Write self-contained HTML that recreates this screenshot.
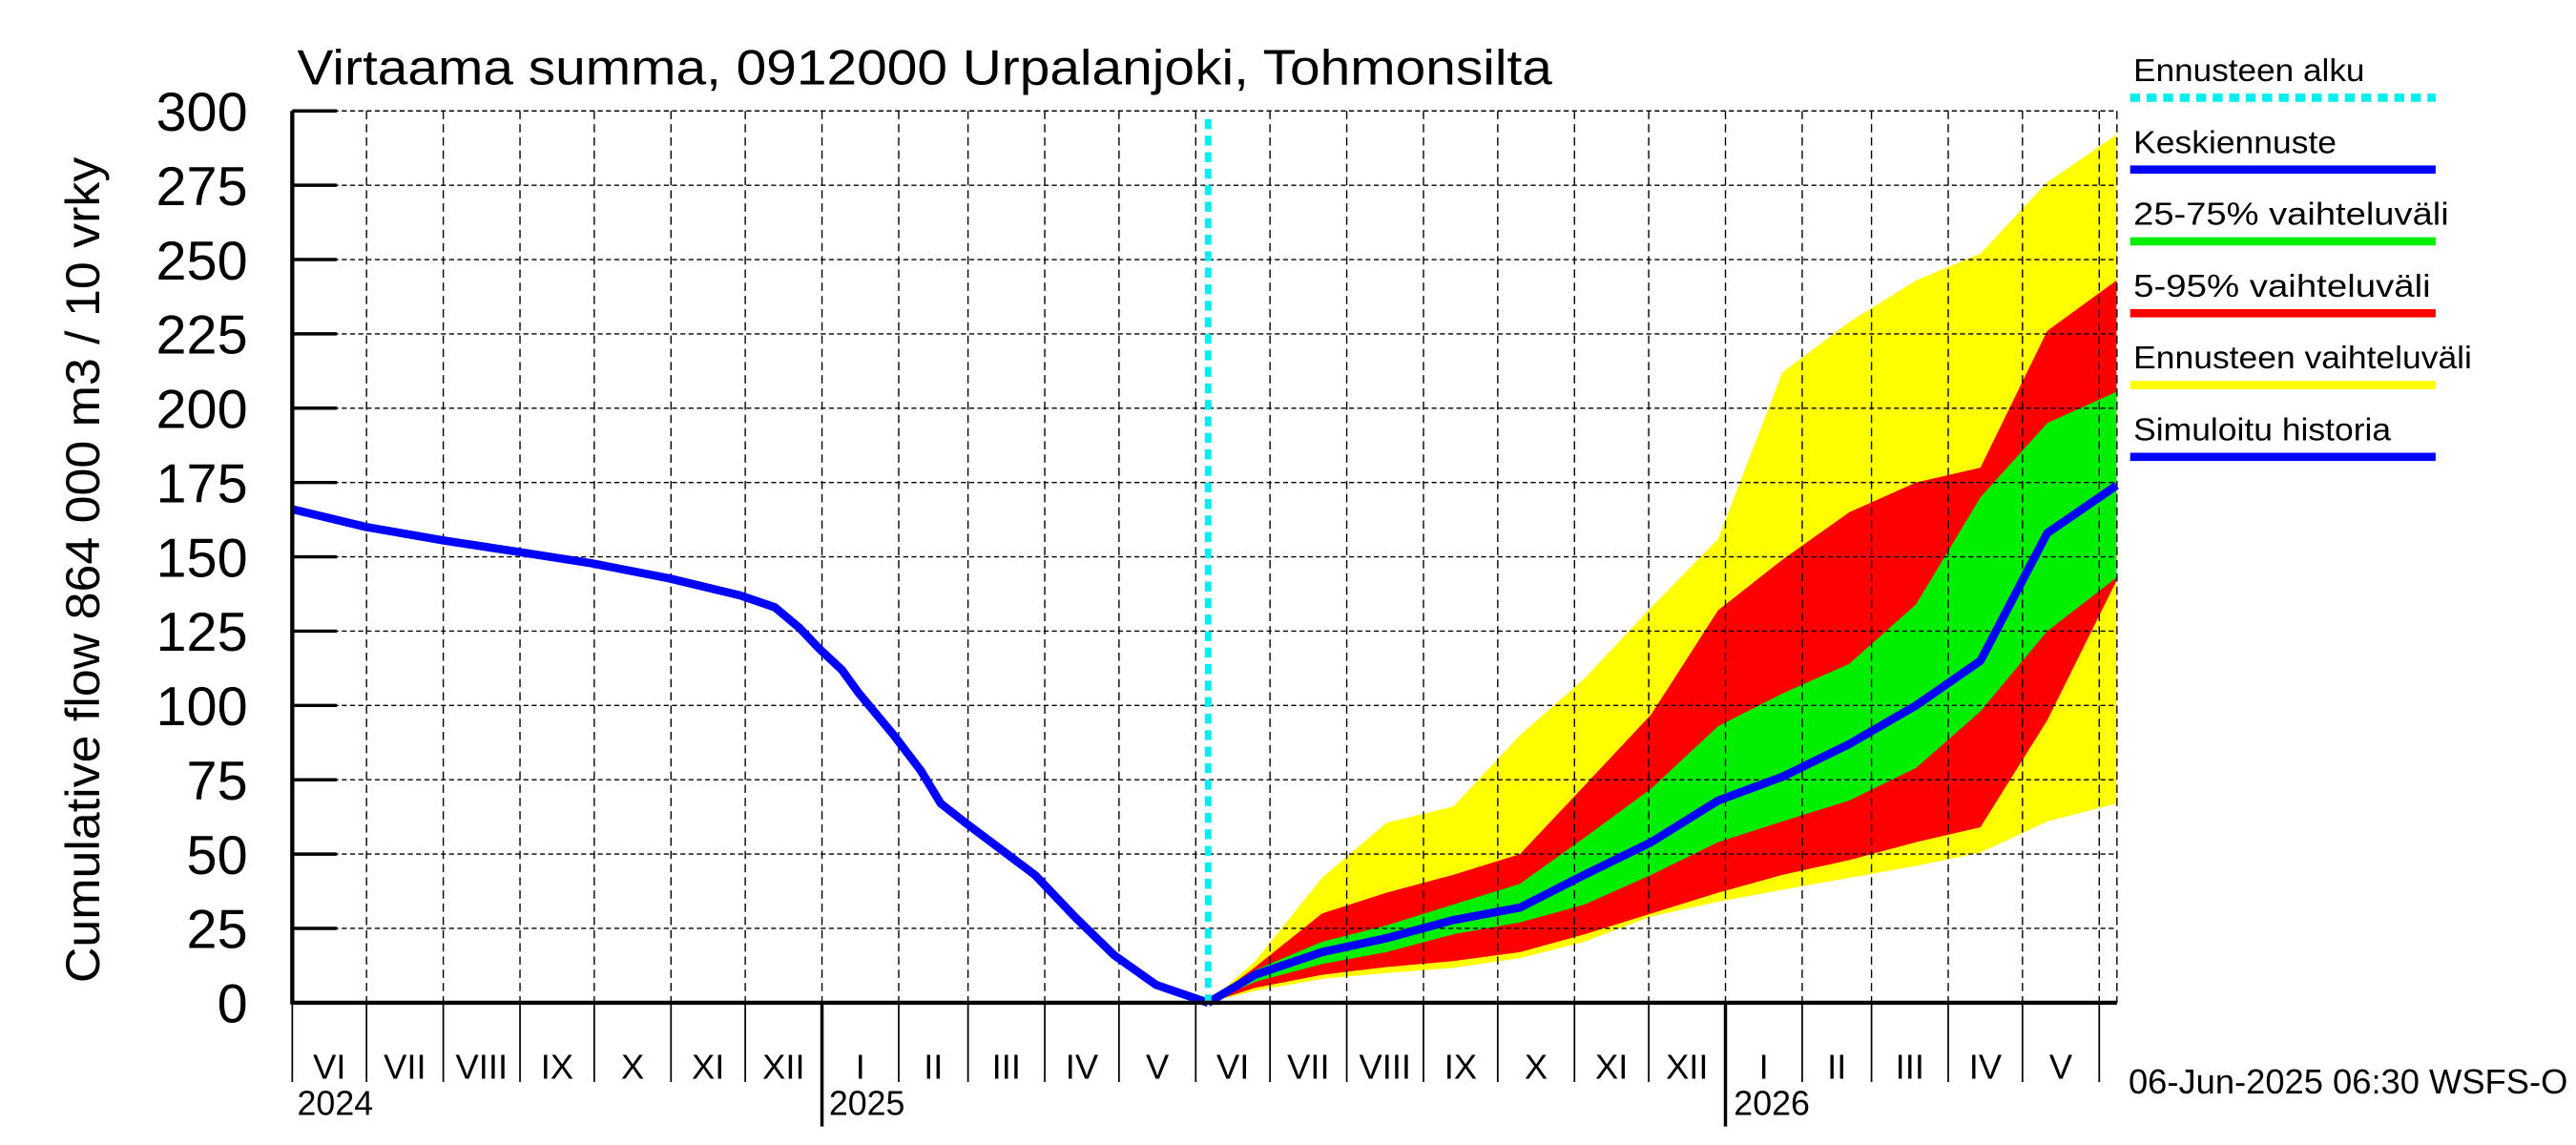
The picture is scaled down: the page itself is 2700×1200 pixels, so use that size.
<!DOCTYPE html>
<html><head><meta charset="utf-8"><style>
html,body{margin:0;padding:0;background:#fff;}
svg{display:block;font-family:"Liberation Sans",sans-serif;}
</style></head><body>
<svg id="chart" width="2700" height="1200" viewBox="0 0 1560 693" xmlns="http://www.w3.org/2000/svg">
<rect x="0" y="0" width="1560" height="693" fill="#fff"/>
<g id="bands"></g>
<g id="grid"></g>
<g id="lines"></g>
<g id="axes"></g>
<text x="180" y="51" font-size="30" textLength="760" lengthAdjust="spacingAndGlyphs">Virtaama summa, 0912000 Urpalanjoki, Tohmonsilta</text>
<text transform="translate(60,345) rotate(-90)" text-anchor="middle" font-size="29" textLength="500" lengthAdjust="spacingAndGlyphs">Cumulative flow    864 000 m3 / 10 vrky</text>
<text x="1555" y="662" text-anchor="end" font-size="21" textLength="266" lengthAdjust="spacingAndGlyphs">06-Jun-2025 06:30 WSFS-O</text>
<g id="legend"></g>
</svg>
<script>
const histDays=[0,30,61,91,121,152,181,195,205,213,222,229,243,254,262,272,284,300,316,332,349,370];
const histVals=[166,160,155.5,151.7,147.8,142.8,137,133,126,119,112,104,90,78,67,60.5,53,43,29,16,6,0];
const fcDays=[370,389,416,442,469,496,522,549,576,602,629,656,682,709,737];
const median=[0,9.4,17,21.7,27.8,32,43,54,68,76,87,100,115,158,174];
const p75=[0,11,20.5,26,33,40,55.5,72,93,104,114,134,170,195,205.5];
const p25=[0,7,13,17,23,27,33,43,54,61,68,79,98,125,143];
const p95=[0,12,30,37,43,50,73,97,132,149,165,175,180,226,243];
const p05=[0,5,9.4,12,14,17,23,30,37,43,48,54,59,95,142];
const pmax=[0,14,42,60.5,66,90,109,133,156,212,229,243,252,276,292];
const pmin=[0,4,8,10,11.7,15,20.5,29,34,38,42,46,50.5,61,67];
const yTicks=[0,25,50,75,100,125,150,175,200,225,250,275,300];
const monthLabels=["VI","VII","VIII","IX","X","XI","XII","I","II","III","IV","V","VI","VII","VIII","IX","X","XI","XII","I","II","III","IV","V"];
const yearLabels=["2024","2025","2026"];
const forecastDay=370;

const L=177,R=1282,T=67,B=607,PXD=1.499;
const X=d=>L+d*PXD, Y=v=>B-(v/300)*(B-T);
const NS="http://www.w3.org/2000/svg";
function mk(tag,attrs,parent){const e=document.createElementNS(NS,tag);for(const k in attrs)e.setAttribute(k,attrs[k]);parent.appendChild(e);return e;}
const gB=document.getElementById('bands'),gG=document.getElementById('grid'),gL=document.getElementById('lines'),gA=document.getElementById('axes'),gLeg=document.getElementById('legend');

function band(up,lo,color,name){
  let d='M'+fcDays.map((t,i)=>X(t)+','+Y(up[i])).join(' L');
  for(let i=fcDays.length-1;i>=0;i--)d+=' L'+X(fcDays[i])+','+Y(lo[i]);
  const p=mk('path',{d:d+'Z',fill:color},gB);
  
  
}
band(pmax,pmin,'#ffff00','band-full-range');
band(p95,p05,'#ff0000','band-5-95');
band(p75,p25,'#00ee00','band-25-75');

const bounds=[];
for(let i=0;i<=24;i++){const dt=new Date(Date.UTC(2024,5+i,1));bounds.push({d:(dt-Date.UTC(2024,5,1))/86400000,m:dt.getUTCMonth()});}
yTicks.forEach(v=>{
  const l=mk('line',{x1:L,x2:R,y1:Y(v),y2:Y(v),stroke:'#000','stroke-width':0.8,'stroke-dasharray':'3,2'},gG);
  
  
  const t=mk('text',{x:150,y:Y(v)+12,'text-anchor':'end','font-size':33,textLength:String(v).length*18.5,lengthAdjust:'spacingAndGlyphs'},gA);
  t.textContent=v;
  
  
  const tk=mk('line',{x1:L,x2:L+27,y1:Y(v),y2:Y(v),stroke:'#000','stroke-width':2},gA);
  
  
});
bounds.forEach((b,i)=>{
  const x=X(b.d);
  if(i>0&&x<=R){
    const l=mk('line',{x1:x,x2:x,y1:T,y2:B,stroke:'#000','stroke-width':0.8,'stroke-dasharray':'5,3'},gG);
    
    
  }
  if(x<=R){
    const yr=b.m===0;
    const tk=mk('line',{x1:x,x2:x,y1:B,y2:yr?682:655,stroke:'#000','stroke-width':yr?2:1},gA);
    
    
  }
  if(i<24){
    const t=mk('text',{x:(X(b.d)+X(bounds[i+1].d))/2,y:653,'text-anchor':'middle','font-size':21},gA);
    t.textContent=monthLabels[i];
    
    
  }
});
[[0,180],[1,502],[2,1050]].forEach(([i,x])=>{
  const t=mk('text',{x:x,y:675,'font-size':21,textLength:46,lengthAdjust:'spacingAndGlyphs'},gA);
  t.textContent=yearLabels[i];
  
  
});
const rb=mk('line',{x1:R,x2:R,y1:T,y2:B,stroke:'#000','stroke-width':0.8,'stroke-dasharray':'5,3'},gG);


const ax1=mk('line',{x1:L,x2:L,y1:T,y2:B+1,stroke:'#000','stroke-width':2.5},gA);


const ax2=mk('line',{x1:L,x2:R,y1:B,y2:B,stroke:'#000','stroke-width':2.5},gA);



const hist=mk('polyline',{points:histDays.map((d,i)=>X(d)+','+Y(histVals[i])).join(' '),fill:'none',stroke:'#0000ff','stroke-width':5,'stroke-linejoin':'round'},gL);


const med=mk('polyline',{points:fcDays.map((d,i)=>X(d)+','+Y(median[i])).join(' '),fill:'none',stroke:'#0000ff','stroke-width':5,'stroke-linejoin':'round'},gL);


const fl=mk('line',{x1:X(forecastDay),x2:X(forecastDay),y1:T+5,y2:B,stroke:'#00eeee','stroke-width':4,'stroke-dasharray':'6,4'},gL);



const leg=[["Ennusteen alku","#00eeee",true],["Keskiennuste","#0000ff"],["25-75% vaihteluväli","#00ee00"],["5-95% vaihteluväli","#ff0000"],["Ennusteen vaihteluväli","#ffff00"],["Simuloitu historia","#0000ff"]];
const legW=[140,123,191,180,205,156];
leg.forEach((e,i)=>{
  const y=49+i*43.5;
  const t=mk('text',{x:1292,y:y,'font-size':19,textLength:legW[i],lengthAdjust:'spacingAndGlyphs'},gLeg);
  t.textContent=e[0];
  
  
  const attrs={x1:1290,x2:1475,y1:y+10,y2:y+10,stroke:e[1],'stroke-width':5};
  if(e[2])attrs['stroke-dasharray']='6,4';
  const l=mk('line',attrs,gLeg);
  
  
});
</script>
</body></html>
